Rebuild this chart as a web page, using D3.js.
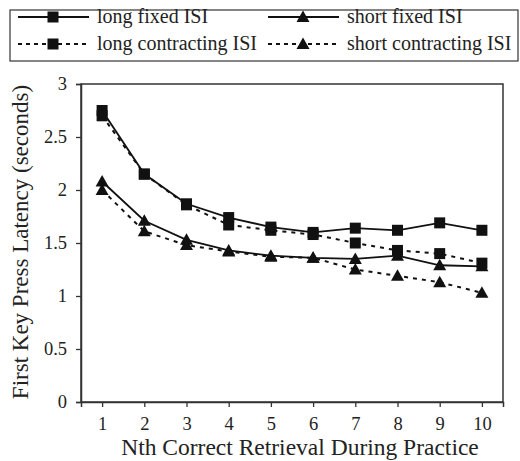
<!DOCTYPE html>
<html><head><meta charset="utf-8">
<script src="https://cdn.jsdelivr.net/npm/d3@7"></script>
<style>body{margin:0;background:#fff}svg{display:block}text{font-family:"Liberation Serif","Times New Roman",serif;fill:#222}</style>
</head><body><svg id="c" width="520" height="461"></svg>
<script>
const categories = [1,2,3,4,5,6,7,8,9,10];
const longFixed = [2.75,2.15,1.87,1.74,1.65,1.60,1.64,1.62,1.69,1.62];
const longContracting = [2.70,2.15,1.86,1.67,1.62,1.58,1.50,1.43,1.40,1.31];
const shortFixed = [2.08,1.71,1.53,1.43,1.38,1.36,1.35,1.38,1.29,1.28];
const shortContracting = [2.00,1.61,1.48,1.42,1.37,1.36,1.25,1.19,1.13,1.03];
const yTicks = [0,0.5,1,1.5,2,2.5,3];
const yTickLabels = ["0","0.5","1","1.5","2","2.5","3"];

const series = [
  {name:"long fixed ISI", values:longFixed, dashed:false, marker:"square"},
  {name:"short fixed ISI", values:shortFixed, dashed:false, marker:"triangle"},
  {name:"long contracting ISI", values:longContracting, dashed:true, marker:"square"},
  {name:"short contracting ISI", values:shortContracting, dashed:true, marker:"triangle"}
];

const svg = d3.select("#c");
const x = d3.scaleLinear().domain([0.5,10.5]).range([81,503]);
const y = d3.scaleLinear().domain([0,3]).range([402,84]);
const ink = "#111";

// frame
svg.append("rect").attr("x",81).attr("y",84).attr("width",422).attr("height",318)
  .attr("fill","none").attr("stroke","#333").attr("stroke-width",1.5);

const yAxis = svg.append("g").attr("transform","translate(81,0)")
  .call(d3.axisLeft(y).tickValues(yTicks).tickFormat((d,i)=>yTickLabels[i]).tickSize(5).tickPadding(9));
const xAxis = svg.append("g").attr("transform","translate(0,402)")
  .call(d3.axisBottom(x).tickValues(categories).tickFormat(d3.format("d")).tickSize(5).tickPadding(10));
[yAxis,xAxis].forEach(a=>{
  a.select(".domain").attr("stroke","#333").attr("stroke-width",1.5);
  a.selectAll(".tick line").attr("stroke","#333").attr("stroke-width",1.3);
  a.selectAll(".tick text").attr("font-size",18.5).attr("fill","#222")
   .style("font-family",'"Liberation Serif",serif');
});

svg.append("text").attr("x",300).attr("y",455).attr("text-anchor","middle")
  .attr("font-size",23.5).text("Nth Correct Retrieval During Practice");
svg.append("text").attr("transform","translate(28,242) rotate(-90)").attr("text-anchor","middle")
  .attr("font-size",23).text("First Key Press Latency (seconds)");

const line = d3.line().x((d,i)=>x(categories[i])).y(d=>y(d));
function marker(g, type, cx, cy){
  if(type==="square"){
    g.append("rect").attr("x",cx-5.5).attr("y",cy-5.5).attr("width",11).attr("height",11).attr("fill",ink);
  } else {
    g.append("path").attr("d",`M${cx},${cy-6.5}L${cx+6.5},${cy+5}L${cx-6.5},${cy+5}Z`).attr("fill",ink);
  }
}
series.forEach(s=>{
  svg.append("path").datum(s.values).attr("d",line).attr("fill","none").attr("stroke",ink)
    .attr("stroke-width",s.dashed?2:1.8).attr("stroke-dasharray",s.dashed?"4,5":null);
});
series.forEach(s=>{
  const g = svg.append("g");
  s.values.forEach((v,i)=>marker(g,s.marker,x(categories[i]),y(v)));
});

// legend
svg.append("rect").attr("x",10).attr("y",10).attr("width",508).attr("height",51)
  .attr("fill","none").attr("stroke","#444").attr("stroke-width",1.3);
const legPos = [[18,17],[268,17],[18,44],[268,44]];
series.forEach((s,i)=>{
  const [lx,ly]=legPos[i];
  const g = svg.append("g");
  g.append("line").attr("x1",lx).attr("x2",lx+71).attr("y1",ly).attr("y2",ly)
    .attr("stroke",ink).attr("stroke-width",s.dashed?2:1.8).attr("stroke-dasharray",s.dashed?"4,4":null);
  marker(g,s.marker,lx+35,ly);
  g.append("text").attr("x",lx+79).attr("y",ly+6).attr("font-size",20).text(s.name);
});
</script></body></html>
